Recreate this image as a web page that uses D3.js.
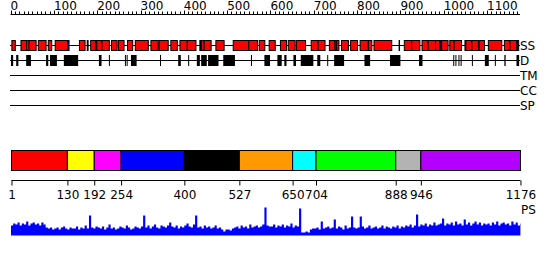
<!DOCTYPE html>
<html>
<head>
<meta charset="utf-8">
<script src="https://cdn.jsdelivr.net/npm/d3@7"></script>
<style>
  body { margin: 0; background: #fff; }
  text { font-family: "DejaVu Sans", sans-serif; font-size: 12px; fill: #000; }
</style>
</head>
<body>
<svg id="chart" width="550" height="260"></svg>
<script>
// protein length
var seqLength = 1176;

// ruler labels
var rulerLabels = [0, 100, 200, 300, 400, 500, 600, 700, 800, 900, 1000, 1100];

// secondary structure segments [start, end, type]  H = red, B = blue
var ssSegments = [
  [3, 11, "H"], [24, 37, "H"], [37, 43, "H"], [43, 59, "H"], [64, 82, "H"],
  [87, 95, "H"], [103, 132, "H"], [132, 135, "B"], [159, 172, "H"], [177, 179, "H"],
  [185, 196, "H"], [196, 199, "B"], [199, 211, "H"], [211, 228, "H"], [233, 246, "H"],
  [249, 262, "H"], [270, 282, "H"], [288, 318, "H"], [324, 341, "H"], [343, 364, "H"],
  [370, 385, "H"], [391, 408, "H"], [408, 428, "H"], [437, 439, "H"], [441, 447, "H"],
  [447, 463, "H"], [474, 493, "H"], [514, 550, "H"], [550, 570, "H"], [574, 587, "H"],
  [597, 611, "H"], [623, 637, "H"], [641, 657, "H"], [660, 681, "H"], [694, 710, "H"],
  [710, 726, "H"], [736, 749, "H"], [749, 752, "H"], [753, 758, "H"], [764, 780, "H"],
  [785, 801, "H"], [807, 826, "H"], [826, 834, "H"], [839, 880, "H"], [897, 898, "H"],
  [909, 926, "H"], [926, 945, "H"], [950, 964, "H"], [964, 981, "H"], [981, 991, "H"],
  [992, 995, "B"], [995, 1010, "H"], [1014, 1024, "H"], [1024, 1041, "H"], [1049, 1051, "B"],
  [1051, 1065, "H"], [1065, 1080, "H"], [1082, 1094, "H"], [1103, 1134, "H"], [1140, 1153, "H"],
  [1153, 1169, "H"], [1169, 1173, "B"]
];

// disordered regions [start, end]
var disorderSegments = [
  [1, 6], [13, 18], [36, 47], [82, 87], [91, 107], [123, 156], [204, 210], [227, 228],
  [264, 266], [268, 270], [278, 291], [345, 346], [387, 393], [410, 411], [430, 437],
  [440, 453], [456, 480], [491, 518], [555, 556], [586, 599], [616, 626], [632, 637],
  [653, 659], [670, 699], [708, 715], [731, 732], [747, 770], [817, 830], [876, 900],
  [943, 951], [1022, 1023], [1027, 1028], [1034, 1035], [1039, 1040], [1065, 1067],
  [1095, 1104], [1118, 1120], [1140, 1143], [1168, 1174]
];

// empty feature tracks
var emptyTracks = ["TM", "CC", "SP"];

// domain boundaries and colours
var domainBounds = [1, 130, 192, 254, 400, 527, 650, 704, 888, 946, 1176];
var domainColors = ["#ff0000", "#ffff00", "#ff00ff", "#0000ff", "#000000",
                    "#ff9900", "#00ffff", "#00ff00", "#b3b3b3", "#b300ff"];

// PS score, one value per 5 residues
var psBinSize = 5;
var psValues = [
  10,12,11,13,10,12,11,14,10,12,13,11,12,10,13,11,8,7,8,6,
  7,8,6,8,9,7,6,8,7,7,9,6,8,7,10,7,20,8,7,9,
  8,7,9,6,8,11,7,8,6,7,9,8,7,10,8,6,7,9,8,7,
  9,20,8,10,7,9,11,8,7,10,9,8,10,13,9,8,10,7,9,8,
  10,12,9,8,11,20,8,9,7,10,8,9,7,8,10,7,8,6,4,6,
  6,5,7,8,9,7,10,8,9,7,11,8,9,10,8,9,11,28,10,9,
  9,11,8,10,9,11,8,10,9,12,8,10,9,27,3,3,4,3,6,7,
  7,8,6,14,7,8,9,7,8,16,7,9,8,6,10,7,8,19,8,7,
  8,19,9,7,8,10,7,8,9,7,8,10,7,9,8,7,9,8,10,7,
  9,8,10,9,11,8,10,21,9,11,10,12,9,11,10,13,10,11,12,17,
  10,12,11,13,10,14,11,12,10,16,11,13,10,12,14,11,13,10,12,11,
  12,10,13,11,14,10,12,13,11,12,10,14,11,13,10,12
];

var svg = d3.select("#chart");
var x = d3.scaleLinear().domain([1, seqLength + 1]).range([11, 520.4]);
var xEnd = x(seqLength);

// ruler
var ruler = svg.append("g");
ruler.append("line")
  .attr("x1", x(0)).attr("x2", xEnd)
  .attr("y1", 14.5).attr("y2", 14.5)
  .attr("stroke", "#000");
ruler.selectAll("line.tick").data(d3.range(0, seqLength, 10))
  .join("line")
  .attr("class", "tick")
  .attr("x1", d => Math.round(x(d)) + 0.5).attr("x2", d => Math.round(x(d)) + 0.5)
  .attr("y1", 14.5).attr("y2", d => d % 100 === 0 ? 10.5 : 11.5)
  .attr("stroke", "#000");
ruler.selectAll("text").data(rulerLabels)
  .join("text")
  .attr("x", d => x(d))
  .attr("y", 10)
  .text(d => d);

// generic track helper
function drawTrack(y, label) {
  svg.append("line")
    .attr("x1", 10).attr("x2", 520)
    .attr("y1", y + 0.5).attr("y2", y + 0.5)
    .attr("stroke", "#000");
  svg.append("text")
    .attr("x", 520)
    .attr("y", y + 5)
    .text(label);
}

// SS track
drawTrack(45, "SS");
svg.append("g").selectAll("rect").data(ssSegments)
  .join("rect")
  .attr("x", d => x(d[0]))
  .attr("y", 40.5)
  .attr("width", d => Math.max(0.1, x(d[1]) - x(d[0])))
  .attr("height", 10)
  .attr("fill", d => d[2] === "B" ? "#0000ff" : "#ff0000")
  .attr("stroke", "#000")
  .attr("stroke-width", 1);

// D track
drawTrack(60, "D");
svg.append("g").selectAll("rect").data(disorderSegments)
  .join("rect")
  .attr("x", d => x(d[0]))
  .attr("y", 55)
  .attr("width", d => Math.max(1, x(d[1]) - x(d[0])))
  .attr("height", 11)
  .attr("fill", "#000");

// empty tracks
emptyTracks.forEach((t, i) => drawTrack(75 + i * 15, t));

// domain bar
var domains = domainColors.map((c, i) => ({ start: domainBounds[i], end: domainBounds[i + 1], color: c }));
svg.append("g").selectAll("rect").data(domains)
  .join("rect")
  .attr("x", d => x(d.start) + 0.5)
  .attr("y", 150.5)
  .attr("width", d => x(d.end) - x(d.start))
  .attr("height", 20)
  .attr("fill", d => d.color)
  .attr("stroke", "#000");

var axis = d3.axisBottom(x)
  .tickValues(domainBounds)
  .tickFormat(d3.format("d"))
  .tickSize(5)
  .tickSizeOuter(0)
  .tickPadding(5);
var axisG = svg.append("g")
  .attr("transform", "translate(0.5,180.5)")
  .call(axis);
axisG.select(".domain").attr("d", "M" + x(1) + ",0H" + xEnd);
axisG.selectAll("text")
  .style("font-family", "DejaVu Sans, sans-serif")
  .style("font-size", "12px")
  .attr("fill", "#000");

// PS plot
var yPs = d3.scaleLinear().domain([0, 30]).range([235.5, 205.5]);
var psPoints = psValues.map((v, i) => ({ pos: i * psBinSize + 1, v: v }));
psPoints.push({ pos: seqLength + 1, v: psValues[psValues.length - 1] });

var psArea = d3.area()
  .x(d => x(d.pos))
  .y0(yPs(0))
  .y1(d => yPs(d.v))
  .curve(d3.curveStepAfter);

svg.append("path")
  .datum(psPoints)
  .attr("d", psArea)
  .attr("fill", "#0000ff");

svg.append("text")
  .attr("x", 521)
  .attr("y", 214)
  .text("PS");
</script>
</body>
</html>
